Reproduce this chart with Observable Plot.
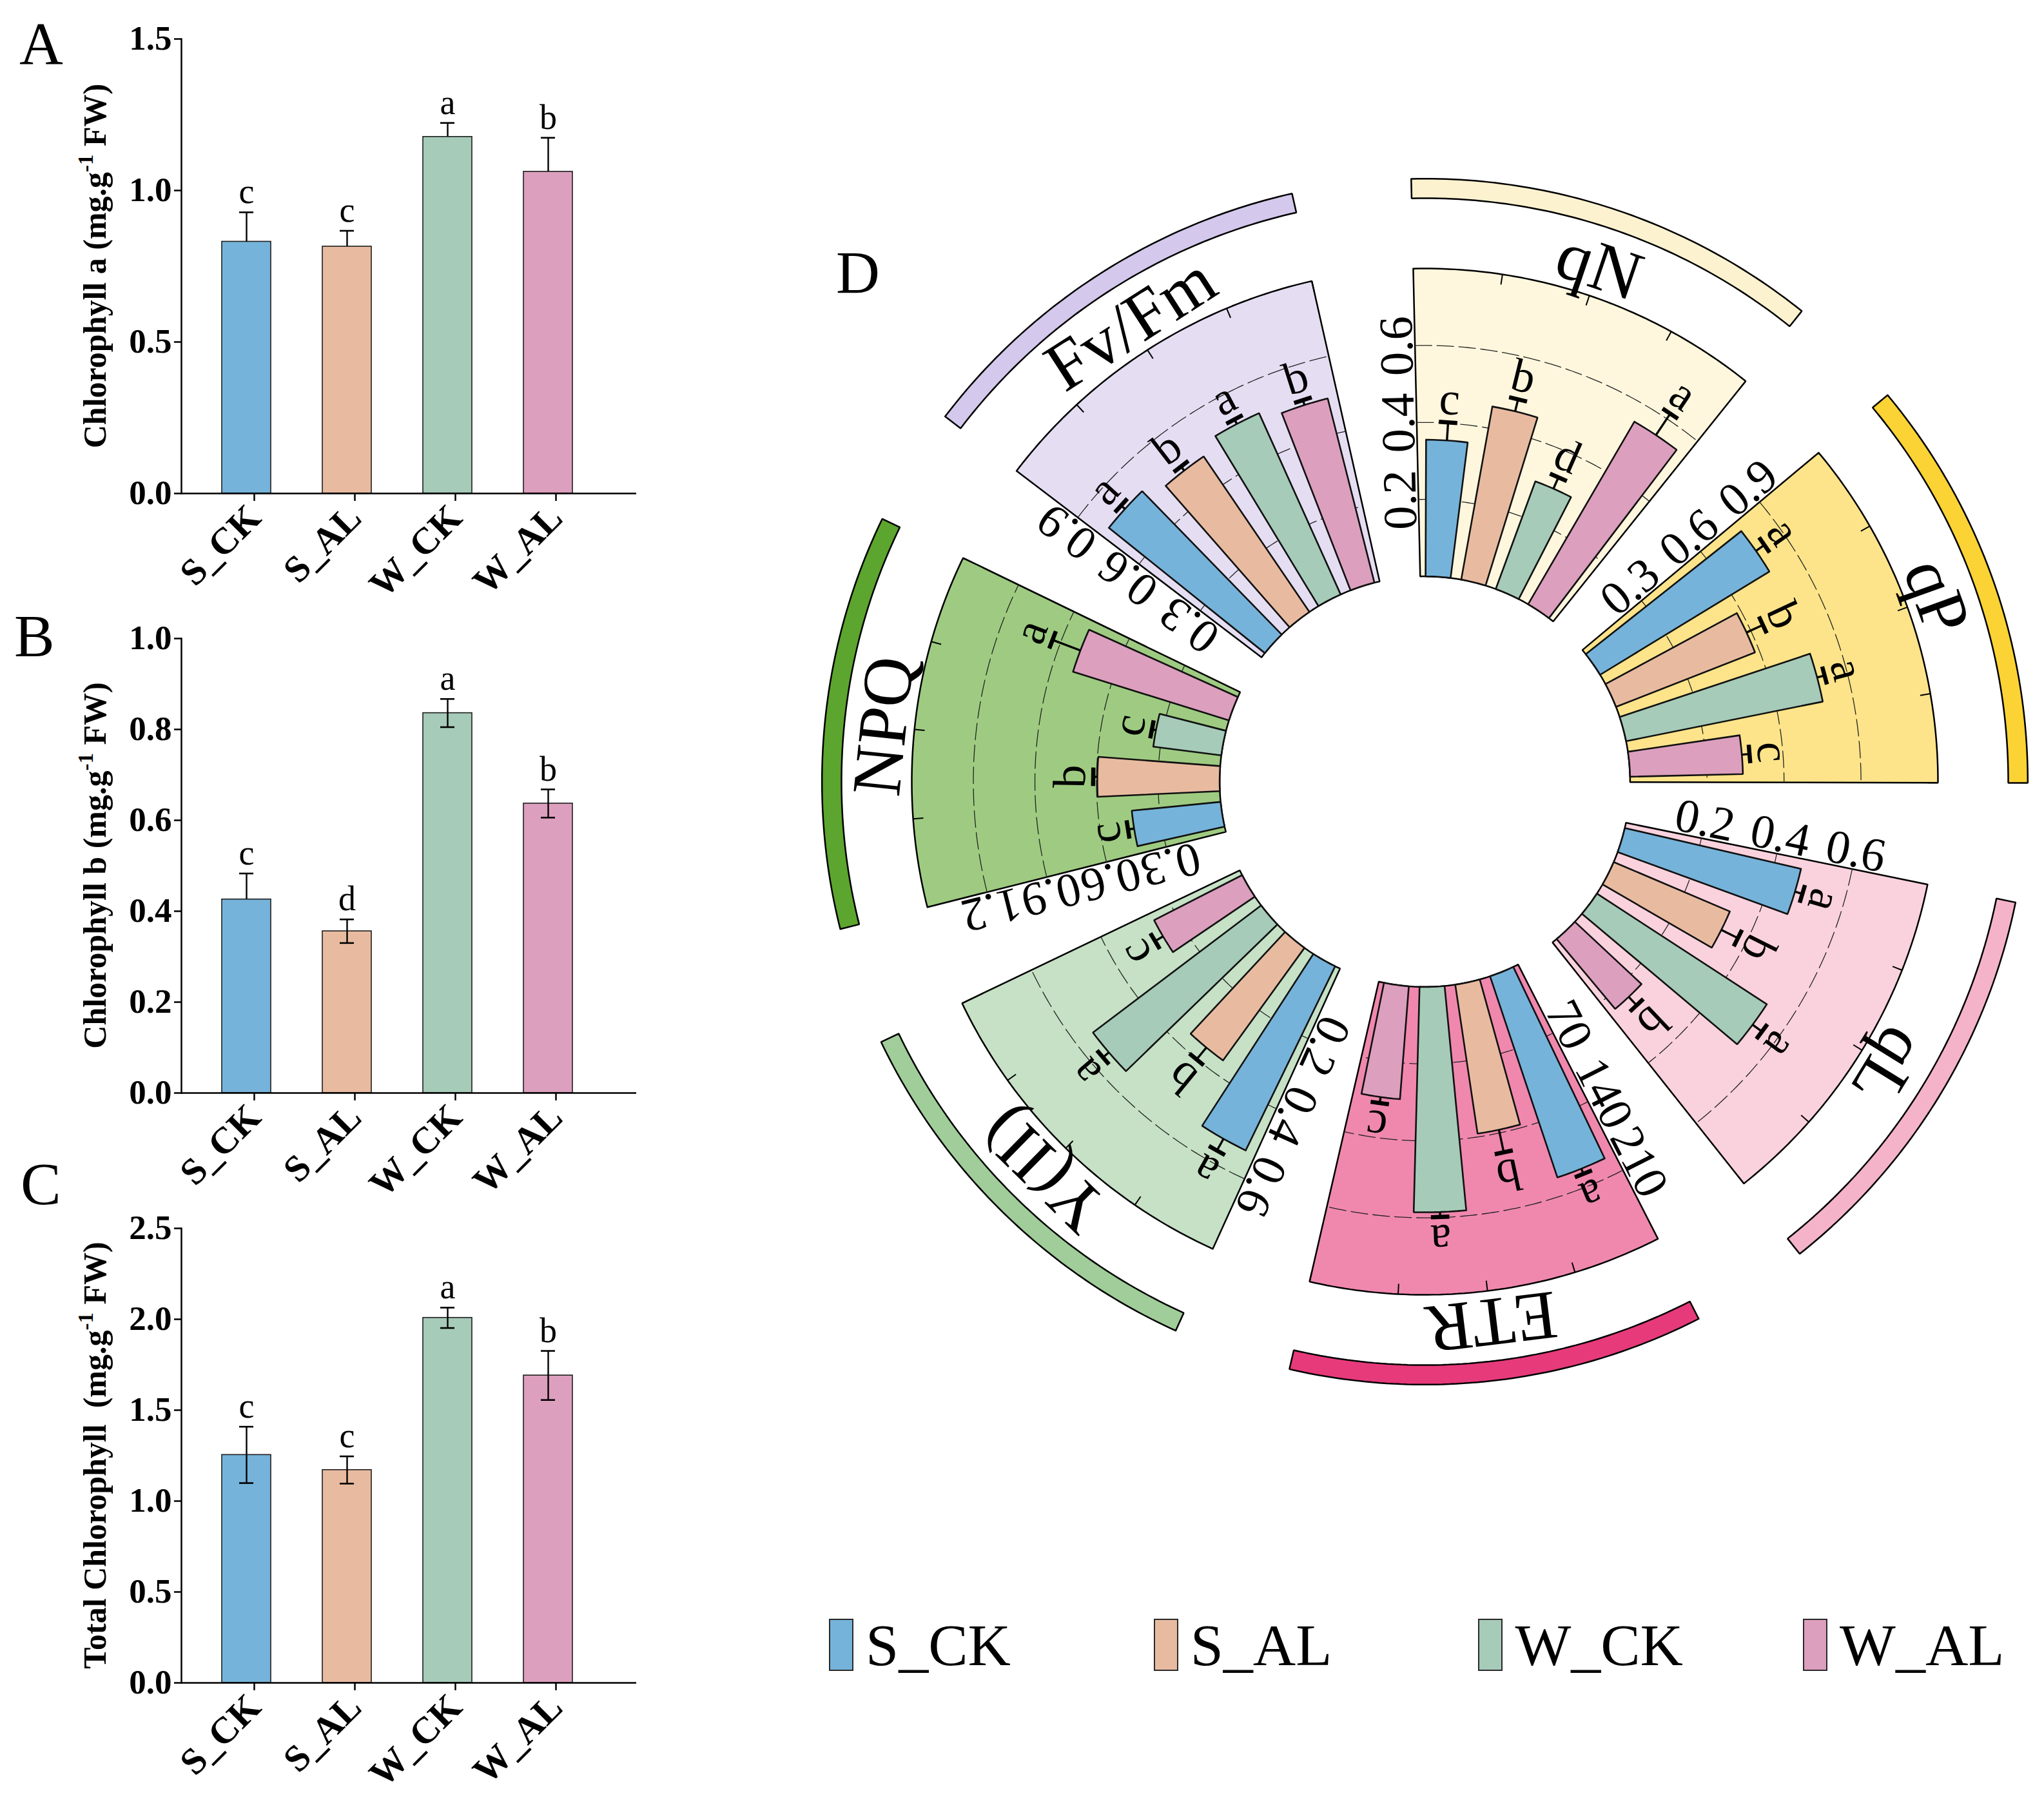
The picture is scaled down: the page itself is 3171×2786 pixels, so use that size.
<!DOCTYPE html>
<html>
<head>
<meta charset="utf-8">
<script src="https://cdn.jsdelivr.net/npm/d3@7"></script>
<script src="https://cdn.jsdelivr.net/npm/@observablehq/plot@0.6"></script>
<style>
  html, body { margin: 0; padding: 0; background: #fff; }
  body { width: 3171px; height: 2786px; position: relative; overflow: hidden;
         font-family: "Liberation Serif", "Times New Roman", Times, serif; }
  .panel { position: absolute; }
  .plabel { position: absolute; font-size: 94px; line-height: 1; color: #000; }
  .legend-item { position: absolute; display: flex; align-items: center; height: 81px; }
  .legend-swatch { width: 38px; height: 81px; box-sizing: border-box; border: 2px solid #2a2a2a; }
  .legend-text { font-size: 92px; line-height: 1; margin-left: 19px; color: #000; }
</style>
</head>
<body>
<div class="plabel" style="left:30px;top:20px">A</div>
<div class="plabel" style="left:22px;top:939px">B</div>
<div class="plabel" style="left:32px;top:1789px">C</div>
<div class="plabel" style="left:1297px;top:375px">D</div>
<div id="panelA" class="panel" style="left:0px;top:20px;width:1000px"></div>
<div id="panelB" class="panel" style="left:0px;top:950px;width:1000px"></div>
<div id="panelC" class="panel" style="left:0px;top:1865px;width:1000px"></div>
<div id="panelD" class="panel" style="left:1250px;top:240px;width:1921px"></div>
<div id="legend"></div>
<script>
// ------------------------------------------------------------------
// DATA
// ------------------------------------------------------------------
const groups = ["S_CK", "S_AL", "W_CK", "W_AL"];
const groupColors = ["#76B3DA", "#E8BBA0", "#A6CBB9", "#DD9FBE"];

// Panel A: Chlorophyll a
const chlAMean = [0.831, 0.815, 1.177, 1.062];
const chlAErr = [0.097, 0.052, 0.046, 0.112];
const chlALetters = ["c", "c", "a", "b"];
const chlALower = [false, false, false, false];
const chlATicks = [0, 0.5, 1.0, 1.5];

// Panel B: Chlorophyll b
const chlBMean = [0.426, 0.356, 0.836, 0.637];
const chlBErr = [0.057, 0.026, 0.031, 0.031];
const chlBLetters = ["c", "d", "a", "b"];
const chlBLower = [false, true, true, true];
const chlBTicks = [0, 0.2, 0.4, 0.6, 0.8, 1.0];

// Panel C: Total chlorophyll
const chlTMean = [1.254, 1.171, 2.008, 1.691];
const chlTErr = [0.155, 0.075, 0.056, 0.135];
const chlTLetters = ["c", "c", "a", "b"];
const chlTLower = [true, true, true, true];
const chlTTicks = [0, 0.5, 1.0, 1.5, 2.0, 2.5];

// Panel D: chlorophyll fluorescence parameters (clockwise from 12 o'clock)
const params = ["qN", "qP", "qL", "ETR", "Y(II)", "NPQ", "Fv/Fm"];
const paramMax = [0.8, 1.2, 0.8, 280, 0.8, 1.5, 1.2];
const paramTicks = [[0.2, 0.4, 0.6], [0.3, 0.6, 0.9], [0.2, 0.4, 0.6], [70, 140, 210],
                    [0.2, 0.4, 0.6], [0.3, 0.6, 0.9, 1.2], [0.3, 0.6, 0.9]];
const paramBg   = ["#FEF7DD", "#FDE48A", "#FAD2DE", "#F088AE", "#C6E1C5", "#9ECB81", "#E5DEF3"];
const paramBand = ["#FDF2CF", "#FBD334", "#F5B3C9", "#E63A7B", "#A0CD99", "#5CA52E", "#D4C8EC"];

const qNMean  = [0.355, 0.457, 0.298, 0.549];
const qNErr   = [0.047, 0.032, 0.032, 0.067];
const qNLetters = ["c", "b", "d", "a"];
const qPMean  = [0.773, 0.582, 0.782, 0.440];
const qPErr   = [0.040, 0.070, 0.030, 0.030];
const qPLetters = ["a", "b", "a", "c"];
const qLMean  = [0.470, 0.328, 0.527, 0.237];
const qLErr   = [0.020, 0.048, 0.030, 0.030];
const qLLetters = ["a", "b", "a", "b"];
const etrMean = [193, 137, 205, 103];
const etrErr  = [5, 21, 4.5, 5.5];
const etrLetters = ["a", "b", "a", "c"];
const y2Mean  = [0.532, 0.361, 0.548, 0.257];
const y2Err   = [0.035, 0.040, 0.020, 0.024];
const y2Letters = ["a", "b", "a", "c"];
const npqMean = [0.435, 0.596, 0.334, 0.796];
const npqErr  = [0.030, 0.020, 0.020, 0.145];
const npqLetters = ["c", "b", "c", "a"];
const fvfmMean = [0.780, 0.733, 0.775, 0.741];
const fvfmErr  = [0.020, 0.020, 0.020, 0.020];
const fvfmLetters = ["a", "b", "a", "b"];

const paramMean = [qNMean, qPMean, qLMean, etrMean, y2Mean, npqMean, fvfmMean];
const paramErr = [qNErr, qPErr, qLErr, etrErr, y2Err, npqErr, fvfmErr];
const paramLetters = [qNLetters, qPLetters, qLLetters, etrLetters, y2Letters, npqLetters, fvfmLetters];

// ------------------------------------------------------------------
const serif = "Liberation Serif, Times New Roman, Times, serif";

function barPanel(el, mean, err, lower, letters, ticks, titleMain, titleEnd) {
  const data = groups.map((g, i) => ({
    g, v: mean[i], hi: mean[i] + err[i],
    lo: lower[i] ? mean[i] - err[i] : mean[i],
    letter: letters[i], color: groupColors[i]
  }));
  const lowData = data.filter(d => d.lo < d.v);
  const W = 1000, H = 900, mT = 40, mB = 155, mL = 281, mR = 13;
  const svg = Plot.plot({
    width: W, height: H, marginTop: mT, marginBottom: mB, marginLeft: mL, marginRight: mR,
    style: {background: "transparent", fontFamily: serif, overflow: "visible"},
    x: {domain: groups, range: [304.7, 928.7], paddingInner: 0.51, paddingOuter: 0.255},
    y: {domain: [0, ticks[ticks.length - 1]]},
    color: {type: "identity"},
    marks: [
      Plot.barY(data, {x: "g", y: "v", fill: "color", stroke: "#1e1e1e", strokeWidth: 1.6}),
      Plot.ruleX(data, {x: "g", y1: "lo", y2: "hi", stroke: "#000", strokeWidth: 2.4}),
      Plot.tickY(data, {x: "g", y: "hi", stroke: "#000", strokeWidth: 2.6, insetLeft: 27, insetRight: 27}),
      Plot.tickY(lowData, {x: "g", y: "lo", stroke: "#000", strokeWidth: 2.6, insetLeft: 27, insetRight: 27}),
      Plot.text(data, {x: "g", y: "hi", text: "letter", dy: -14, lineAnchor: "bottom",
                       fontSize: 54, fontFamily: serif, fill: "#000"}),
      Plot.axisY({ticks, tickSize: 11, tickPadding: 4, tickFormat: d3.format(".1f"),
                  fontSize: 53, fontWeight: "bold", fontFamily: serif, strokeWidth: 2.5, label: null}),
      Plot.axisX({tickSize: 12, tickPadding: 16, tickRotate: -45, dx: 12,
                  fontSize: 58, fontWeight: "bold", fontFamily: serif, strokeWidth: 2.5, label: null}),
      Plot.ruleY([0], {strokeWidth: 2.5}),
      Plot.frame({anchor: "left", strokeWidth: 2.5})
    ]
  });
  // y-axis title with superscript
  const yc = mT + (H - mT - mB) / 2;
  const t = d3.select(svg).append("text")
    .attr("transform", `translate(146,${yc}) rotate(-90)`)
    .attr("text-anchor", "middle")
    .attr("dy", "0.35em")
    .attr("font-family", serif)
    .attr("font-weight", "bold")
    .attr("font-size", 50)
    .attr("fill", "#000");
  t.append("tspan").text(titleMain);
  t.append("tspan").attr("dy", -20).attr("font-size", 33).text("-1");
  t.append("tspan").attr("dy", 20).text(titleEnd);
  document.getElementById(el).appendChild(svg);
}

barPanel("panelA", chlAMean, chlAErr, chlALower, chlALetters, chlATicks, "Chlorophyll a (mg.g", " FW)");
barPanel("panelB", chlBMean, chlBErr, chlBLower, chlBLetters, chlBTicks, "Chlorophyll b (mg.g", " FW)");
barPanel("panelC", chlTMean, chlTErr, chlTLower, chlTLetters, chlTTicks, "Total Chlorophyll\u00A0 (mg.g", " FW)");

// ------------------------------------------------------------------
// Panel D: circular bar chart
// ------------------------------------------------------------------
(function () {
  const dW = 1921, dH = 1950, cx = 960, cy = 972, unit = 796;
  const deg = Math.PI / 180;
  const step = 360 / params.length;
  const startAngle = -1.3, span = 40;
  const r0 = 0.4, bandIn = 1.137, bandOut = 1.175, nameR = 1.06;
  const barHalf = 3.5, capHalf = 0.018, tickLen = 0.02;
  const polar = (r, a) => [r * Math.sin(a * deg), r * Math.cos(a * deg)];
  function annulus(id, ri, ro, a0, a1, fill, n = 60) {
    const pts = [];
    for (let k = 0; k <= n; k++) pts.push(polar(ro, a0 + (a1 - a0) * k / n));
    for (let k = n; k >= 0; k--) pts.push(polar(ri, a0 + (a1 - a0) * k / n));
    pts.push(pts[0]);
    return pts.map(([x, y]) => ({id, x, y, fill}));
  }
  const sectorPolys = [], bandPolys = [], gridLines = [], barPolys = [];
  const stems = [], caps = [], letterPts = [], axisLabels = [], nameLabels = [], outerTicks = [];
  params.forEach((p, i) => {
    const a0 = startAngle + i * step, a1 = a0 + span;
    const rs = d3.scaleLinear([0, paramMax[i]], [r0, 1]);
    sectorPolys.push(...annulus("s" + i, r0, 1, a0, a1, paramBg[i]));
    bandPolys.push(...annulus("b" + i, bandIn, bandOut, a0, a1, paramBand[i]));
    paramTicks[i].forEach((t, k) => {
      const r = rs(t);
      for (let s = 0; s <= 80; s++) {
        const [x, y] = polar(r, a0 + span * s / 80);
        gridLines.push({id: `g${i}_${k}`, x, y});
      }
      const [px, py] = polar(r, a0);
      const off = 0.035;
      axisLabels.push({x: px - off * Math.cos(a0 * deg), y: py + off * Math.sin(a0 * deg),
                       text: String(t), rotate: a0 - 90});
    });
    for (let k = 1; k <= 4; k++) {
      const a = a0 + k * span / 4;
      const [x1, y1] = polar(1, a), [x2, y2] = polar(1 - tickLen, a);
      outerTicks.push({x1, y1, x2, y2});
    }
    const am = a0 + span / 2;
    const [nx, ny] = polar(nameR, am);
    nameLabels.push({x: nx, y: ny, text: p, rotate: am});
    paramMean[i].forEach((v, j) => {
      const e = paramErr[i][j];
      const ac = a0 + (j + 0.5) * span / 4;
      barPolys.push(...annulus(`bar${i}_${j}`, r0, rs(v), ac - barHalf, ac + barHalf, groupColors[j], 6));
      const rv = rs(v), re = rs(v + e);
      const [sx1, sy1] = polar(rv, ac), [sx2, sy2] = polar(re, ac);
      stems.push({x1: sx1, y1: sy1, x2: sx2, y2: sy2});
      const tx = Math.cos(ac * deg), ty = -Math.sin(ac * deg);
      caps.push({x1: sx2 - capHalf * tx, y1: sy2 - capHalf * ty, x2: sx2 + capHalf * tx, y2: sy2 + capHalf * ty});
      const [lx, ly] = polar(re + 0.045, ac);
      letterPts.push({x: lx, y: ly, text: paramLetters[i][j], rotate: ac});
    });
  });

  const svg = Plot.plot({
    width: dW, height: dH, margin: 0,
    style: {background: "transparent", fontFamily: serif, overflow: "visible"},
    x: {domain: [-cx / unit, (dW - cx) / unit], axis: null},
    y: {domain: [-(dH - cy) / unit, cy / unit], axis: null},
    color: {type: "identity"},
    marks: [
      Plot.line(sectorPolys, {x: "x", y: "y", z: "id", fill: "fill", stroke: "#000", strokeWidth: 2.5, strokeLinejoin: "miter"}),
      Plot.line(gridLines, {x: "x", y: "y", z: "id", stroke: "#222", strokeWidth: 1.3, strokeDasharray: "26,8"}),
      Plot.line(barPolys, {x: "x", y: "y", z: "id", fill: "fill", stroke: "#111", strokeWidth: 2.6, strokeLinejoin: "miter"}),
      Plot.link(outerTicks, {x1: "x1", y1: "y1", x2: "x2", y2: "y2", stroke: "#000", strokeWidth: 2}),
      Plot.link(stems, {x1: "x1", y1: "y1", x2: "x2", y2: "y2", stroke: "#000", strokeWidth: 3.4}),
      Plot.link(caps, {x1: "x1", y1: "y1", x2: "x2", y2: "y2", stroke: "#000", strokeWidth: 6.5}),
      Plot.text(letterPts, {x: "x", y: "y", text: "text", rotate: "rotate", fontSize: 72,
                            fontFamily: serif, fill: "#000", lineAnchor: "middle", textAnchor: "middle"}),
      Plot.text(axisLabels, {x: "x", y: "y", text: "text", rotate: "rotate", fontSize: 74,
                             fontFamily: serif, fill: "#000", lineAnchor: "middle", textAnchor: "middle"}),
      Plot.text(nameLabels, {x: "x", y: "y", text: "text", rotate: "rotate", fontSize: 108,
                             fontFamily: serif, fill: "#000", lineAnchor: "middle", textAnchor: "middle"}),
      Plot.line(bandPolys, {x: "x", y: "y", z: "id", fill: "fill", stroke: "#000", strokeWidth: 2.5, strokeLinejoin: "miter"})
    ]
  });
  document.getElementById("panelD").appendChild(svg);
})();

// ------------------------------------------------------------------
// Legend
// ------------------------------------------------------------------
(function () {
  const legend = document.getElementById("legend");
  groups.forEach((g, i) => {
    const item = document.createElement("div");
    item.className = "legend-item";
    item.style.left = (1286 + i * 503.7) + "px";
    item.style.top = "2511px";
    const sw = document.createElement("div");
    sw.className = "legend-swatch";
    sw.style.background = groupColors[i];
    const tx = document.createElement("div");
    tx.className = "legend-text";
    tx.textContent = g;
    item.appendChild(sw);
    item.appendChild(tx);
    legend.appendChild(item);
  });
})();
</script>
</body>
</html>
